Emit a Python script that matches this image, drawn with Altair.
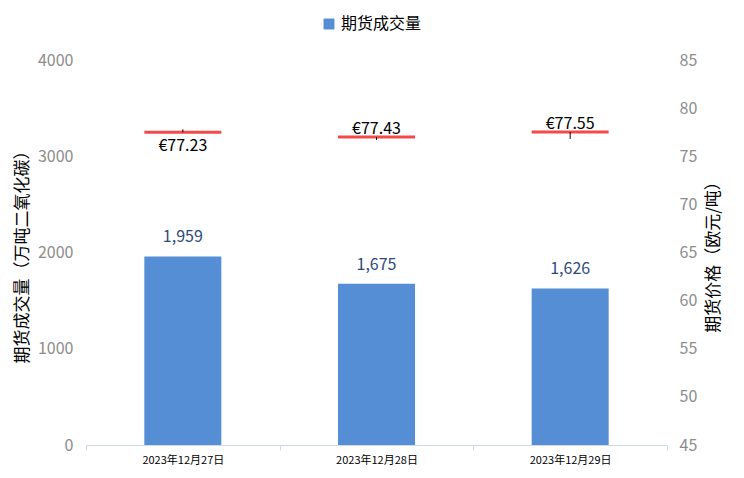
import altair as alt
import pandas as pd

dates = ["2023年12月27日", "2023年12月28日", "2023年12月29日"]
volume = [1959, 1675, 1626]
price_labels = [77.23, 77.43, 77.55]
# red marker level and small high/low tick
marker_level = [77.5, 77.0, 77.52]
tick_top = [77.8, 77.0, 77.52]
tick_bottom = [77.5, 76.7, 76.8]
label_side = ["below", "above", "above"]

df = pd.DataFrame({
    "date": dates,
    "volume": volume,
    "vol_label": [f"{v:,}" for v in volume],
    "series": ["期货成交量"] * 3,
    "price": price_labels,
    "price_text": [f"€{p:.2f}" for p in price_labels],
    "level": marker_level,
    "top": tick_top,
    "bottom": tick_bottom,
    "side": label_side,
})

FONT = "Noto Sans CJK SC"

x = alt.X("date:N", sort=dates, title=None,
          scale=alt.Scale(paddingInner=0, paddingOuter=0),
          axis=alt.Axis(labelAngle=0, labelFontSize=11, labelColor="#000000",
                        domainColor="#d0d9e8", tickColor="#d0d9e8", tickSize=5,
                        tickBand="extent", labelPadding=4, labelFont=FONT))

yl_scale = alt.Scale(domain=[0, 4000])
yl_axis = alt.Axis(values=[0, 1000, 2000, 3000, 4000], format="d", grid=False, domain=False,
                   ticks=False, labelFontSize=16, labelColor="#8c8c8c", labelPadding=13,
                   title="期货成交量（万吨二氧化碳）", titleFontSize=17, titleColor="#000000",
                   titleFontWeight="normal", titleFont=FONT, titlePadding=6, labelFont=FONT)

bars = alt.Chart(df).mark_bar(size=77).encode(
    x=x,
    y=alt.Y("volume:Q", scale=yl_scale, axis=yl_axis),
    color=alt.Color("series:N", scale=alt.Scale(domain=["期货成交量"], range=["#558ed5"]),
                    legend=alt.Legend(orient="none", legendX=235, legendY=-44, title=None,
                                      symbolType="square", symbolSize=120, labelFontSize=16,
                                      labelFont=FONT, labelColor="#000000")),
)
bar_text = alt.Chart(df).mark_text(dy=-19, fontSize=16, color="#2b4a7c", font=FONT).encode(
    x=x, y=alt.Y("volume:Q", scale=yl_scale), text="vol_label:N")

left = alt.layer(bars, bar_text)

yr_scale = alt.Scale(domain=[45, 85])
yr_axis = alt.Axis(orient="right", values=list(range(45, 90, 5)), grid=False, domain=False,
                   ticks=False, labelFontSize=16, labelColor="#8c8c8c", labelPadding=12,
                   title="期货价格（欧元/吨）", titleFontSize=17, titleColor="#000000",
                   titleFontWeight="normal", titleFont=FONT, titlePadding=26, titleAngle=270,
                   labelFont=FONT)

marker = alt.Chart(df).mark_tick(color="#f44a4a", thickness=3, size=77, opacity=1,
                                 orient="horizontal").encode(
    x=x, y=alt.Y("level:Q", scale=yr_scale, axis=yr_axis))
hl = alt.Chart(df).mark_rule(color="#000000", strokeWidth=1).encode(
    x=x, y=alt.Y("top:Q", scale=yr_scale), y2="bottom:Q")
lab_below = alt.Chart(df).transform_filter(alt.datum.side == "below").mark_text(
    dy=14, fontSize=16, color="#000000", font=FONT).encode(
    x=x, y=alt.Y("level:Q", scale=yr_scale), text="price_text:N")
lab_above = alt.Chart(df).transform_filter(alt.datum.side == "above").mark_text(
    dy=-8, fontSize=16, color="#000000", font=FONT).encode(
    x=x, y=alt.Y("level:Q", scale=yr_scale), text="price_text:N")

right = alt.layer(marker, hl, lab_below, lab_above)

chart = alt.layer(left, right).resolve_scale(y="independent").properties(
    width=581, height=385, background="#ffffff",
    autosize=alt.AutoSizeParams(type="none"),
    padding={"left": 78, "top": 52, "right": 69, "bottom": 25},
).configure_view(stroke=None)

chart.save("out.html", embed_options={"renderer": "svg", "actions": False})
